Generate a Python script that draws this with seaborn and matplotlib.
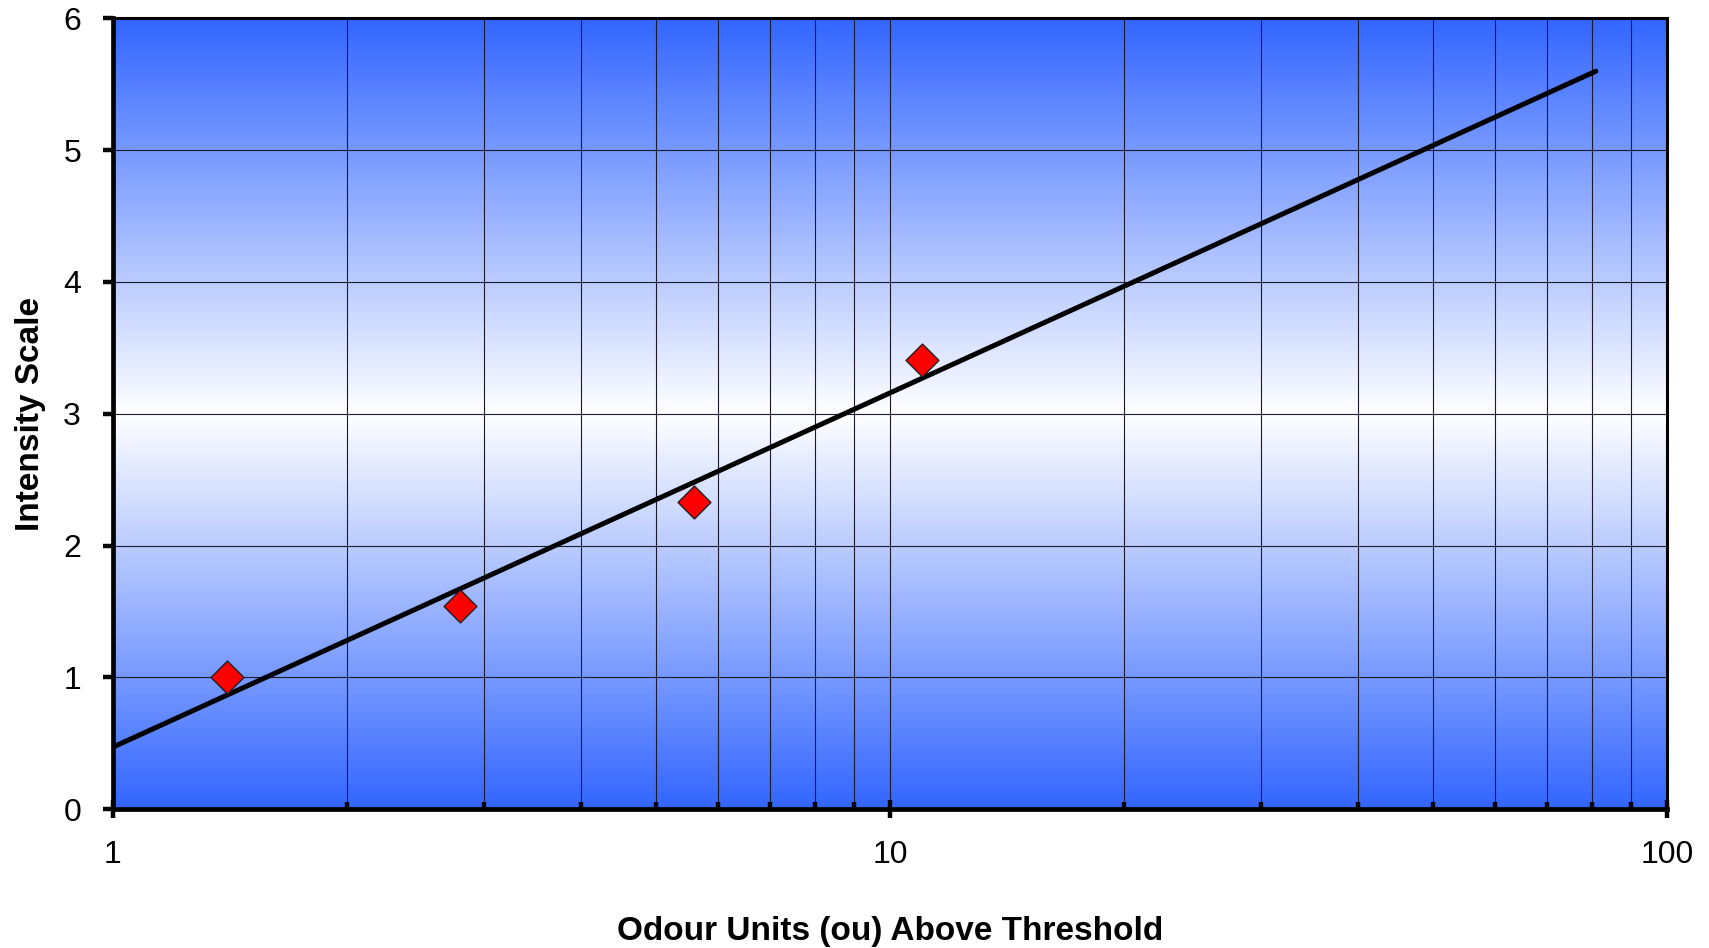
import numpy as np
import pandas as pd
import matplotlib
matplotlib.use("Agg")
import matplotlib.pyplot as plt
import seaborn as sns
from matplotlib.colors import LinearSegmentedColormap
from matplotlib.ticker import LogLocator, NullFormatter, FixedLocator, FixedFormatter

# ---- data ----
odour_units = [1.4, 2.8, 5.6, 11.0]
intensity = [1.0, 1.54, 2.33, 3.41]
fit_x = [1.0, 81.0]
fit_y = [0.47, 5.60]
x_ticks = [1, 10, 100]
x_tick_labels = ["1", "10", "100"]
y_ticks = [0, 1, 2, 3, 4, 5, 6]

points = pd.DataFrame({"ou": odour_units, "intensity": intensity})
fit = pd.DataFrame({"ou": fit_x, "intensity": fit_y})

sns.set_theme(style="white")
plt.rcParams["font.family"] = ["Liberation Sans", "DejaVu Sans"]
plt.rcParams["text.color"] = "black"
plt.rcParams["axes.labelcolor"] = "black"
plt.rcParams["xtick.color"] = "black"
plt.rcParams["ytick.color"] = "black"

fig = plt.figure(figsize=(17.09, 9.48), dpi=100)
ax = fig.add_axes([0.0661, 0.1466, 0.9754 - 0.0661, 0.9805 - 0.1466])

# gradient background: blue at top/bottom, white at middle
blue = "#3366FF"
cmap = LinearSegmentedColormap.from_list("bg", [blue, "#FFFFFF", blue])
grad = np.linspace(0, 1, 512).reshape(-1, 1)
ax.imshow(grad, aspect="auto", cmap=cmap, extent=[0, 1, 0, 1],
          transform=ax.transAxes, zorder=0, interpolation="bicubic")

ax.set_xscale("log")
ax.set_xlim(1, 100)
ax.set_ylim(0, 6)

# grid
ax.xaxis.set_major_locator(FixedLocator(x_ticks))
ax.xaxis.set_major_formatter(FixedFormatter(x_tick_labels))
ax.xaxis.set_minor_locator(LogLocator(base=10, subs=np.arange(2, 10)))
ax.xaxis.set_minor_formatter(NullFormatter())
ax.set_yticks(y_ticks)
ax.grid(True, which="both", axis="x", color="#1a1a2a", linewidth=0.8, zorder=1)
ax.grid(True, which="major", axis="y", color="#1a1a2a", linewidth=0.8, zorder=1)
ax.set_axisbelow(False)

sns.lineplot(data=fit, x="ou", y="intensity", ax=ax, color="black",
             linewidth=3.6, solid_capstyle="round", zorder=3)
sns.scatterplot(data=points, x="ou", y="intensity", ax=ax, marker="D",
                s=280, color="#FF0000", edgecolor="#202020", linewidth=1.0,
                zorder=4)

# spines
for side in ["left", "bottom"]:
    ax.spines[side].set_linewidth(3.4)
    ax.spines[side].set_color("black")
for side in ["top", "right"]:
    ax.spines[side].set_linewidth(2.2)
    ax.spines[side].set_color("black")
for s in ax.spines.values():
    s.set_zorder(5)

ax.tick_params(axis="x", which="major", direction="inout", length=13,
               width=3.2, color="black", labelcolor="black", labelsize=23,
               pad=16, bottom=True)
ax.tick_params(axis="x", which="minor", direction="in", length=5,
               width=3.2, color="black", bottom=True)
ax.tick_params(axis="y", which="major", direction="out", length=7,
               width=3.2, color="black", labelcolor="black", labelsize=23,
               pad=16, left=True)

ax.set_xlabel("Odour Units (ou) Above Threshold", fontsize=24,
              fontweight="bold", color="black")
ax.set_ylabel("Intensity Scale", fontsize=24, fontweight="bold",
              color="black")
ax.xaxis.set_label_coords(0.5, -0.155)
ax.xaxis.label.set_va("center")
ax.yaxis.set_label_coords(-0.0532, 0.5)
ax.yaxis.label.set_va("center")

fig.savefig("out.png", dpi=100, facecolor="white")
